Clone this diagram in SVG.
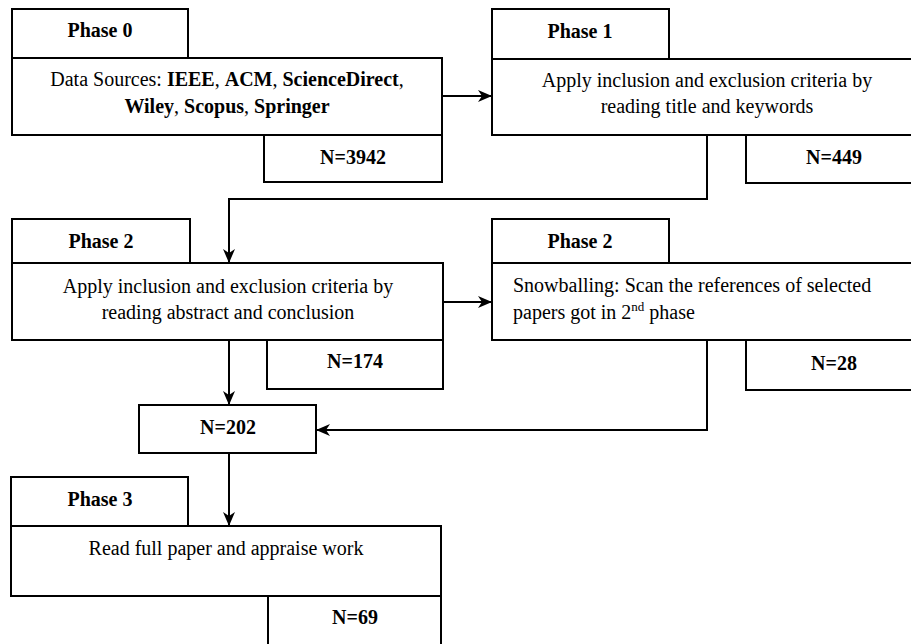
<svg xmlns="http://www.w3.org/2000/svg" width="911" height="644" viewBox="0 0 911 644">
<defs>
<marker id="ah" markerUnits="userSpaceOnUse" markerWidth="15" markerHeight="13" refX="14" refY="6" orient="auto">
<path d="M0,0 L14,6 L0,12 L4,6 Z" fill="#000"/>
</marker>
<style>
.b{fill:#fff;stroke:#000;stroke-width:2}
.t{font-family:"Liberation Serif","Times New Roman",serif;font-size:20px;fill:#000}
.m{text-anchor:middle}
.bd{font-weight:bold}
.c{fill:none;stroke:#000;stroke-width:2}
</style>
</defs>
<rect width="911" height="644" fill="#fff"/>
<g id="connectors">
<path class="c" d="M442,96 H492" marker-end="url(#ah)"/>
<path class="c" d="M707,135 V199 H229 V263" marker-end="url(#ah)"/>
<path class="c" d="M229,340 V405" marker-end="url(#ah)"/>
<path class="c" d="M443,302 H492" marker-end="url(#ah)"/>
<path class="c" d="M707,340 V430 H316" marker-end="url(#ah)"/>
<path class="c" d="M229,453 V526" marker-end="url(#ah)"/>
</g>
<g id="phase0">
<rect class="b" x="12" y="9" width="176" height="49"/>
<text class="t m bd" x="100" y="37">Phase 0</text>
<rect class="b" x="12" y="58" width="430" height="77"/>
<text class="t m" x="227" y="86">Data Sources: <tspan class="bd">IEEE</tspan>, <tspan class="bd">ACM</tspan>, <tspan class="bd">ScienceDirect</tspan>,</text>
<text class="t m" x="227" y="113"><tspan class="bd">Wiley</tspan>, <tspan class="bd">Scopus</tspan>, <tspan class="bd">Springer</tspan></text>
<rect class="b" x="264" y="135" width="178" height="47"/>
<text class="t m bd" x="353" y="164">N=3942</text>
</g>
<g id="phase1">
<rect class="b" x="492" y="9" width="177" height="50"/>
<text class="t m bd" x="580" y="38">Phase 1</text>
<rect class="b" x="492" y="59" width="430" height="76"/>
<text class="t m" x="707" y="87">Apply inclusion and exclusion criteria by</text>
<text class="t m" x="707" y="113">reading title and keywords</text>
<rect class="b" x="746" y="135" width="176" height="48"/>
<text class="t m bd" x="834" y="164">N=449</text>
</g>
<g id="phase2a">
<rect class="b" x="12" y="219" width="178" height="44"/>
<text class="t m bd" x="101" y="248">Phase 2</text>
<rect class="b" x="12" y="263" width="431" height="77"/>
<text class="t m" x="228" y="293">Apply inclusion and exclusion criteria by</text>
<text class="t m" x="228" y="319">reading abstract and conclusion</text>
<rect class="b" x="267" y="340" width="176" height="49"/>
<text class="t m bd" x="355" y="368">N=174</text>
</g>
<g id="phase2b">
<rect class="b" x="492" y="219" width="177" height="44"/>
<text class="t m bd" x="580" y="248">Phase 2</text>
<rect class="b" x="492" y="263" width="430" height="77"/>
<text class="t" x="513" y="292">Snowballing: Scan the references of selected</text>
<text class="t" x="513" y="319">papers got in 2<tspan font-size="13" dy="-8">nd</tspan><tspan dy="8"> phase</tspan></text>
<rect class="b" x="746" y="340" width="176" height="50"/>
<text class="t m bd" x="834" y="370">N=28</text>
</g>
<g id="n202">
<rect class="b" x="139" y="405" width="177" height="48"/>
<text class="t m bd" x="228" y="434">N=202</text>
</g>
<g id="phase3">
<rect class="b" x="11" y="477" width="177" height="49"/>
<text class="t m bd" x="100" y="506">Phase 3</text>
<rect class="b" x="11" y="526" width="430" height="70"/>
<text class="t m" x="226" y="555">Read full paper and appraise work</text>
<rect class="b" x="268" y="596" width="173" height="60"/>
<text class="t m bd" x="355" y="624">N=69</text>
</g>
</svg>
